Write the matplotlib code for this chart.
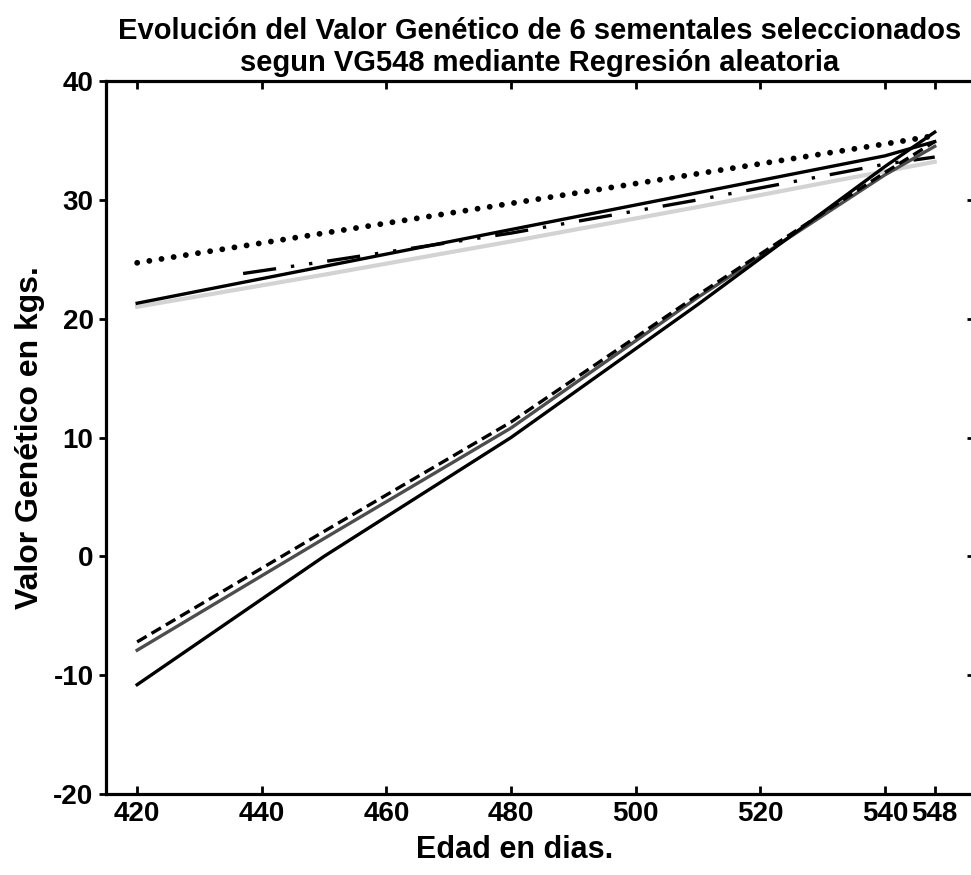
import matplotlib.pyplot as plt

plt.rcParams['font.family'] = ['Liberation Sans', 'DejaVu Sans']
plt.rcParams['font.weight'] = 'bold'
plt.rcParams['axes.unicode_minus'] = False

# Edad (dias) y valor genetico de cada semental
dias = [420, 450, 480, 510, 540, 548]
dias_sem4 = [437, 450, 480, 510, 540, 548]

sem1 = [24.7, 27.2, 29.7, 32.2, 34.7, 35.4]   # punteado
sem2 = [21.3, 24.4, 27.5, 30.6, 33.7, 34.9]   # negro continuo
sem3 = [21.0, 23.7, 26.5, 29.4, 32.4, 33.2]   # gris claro
sem4 = [23.8, 24.8, 27.2, 30.0, 33.0, 33.6]   # raya-punto-punto
sem5 = [-7.2, 2.1, 11.3, 22.0, 32.3, 34.9]    # discontinuo
sem6 = [-7.9, 1.5, 10.8, 21.8, 32.1, 34.5]    # gris oscuro
sem7 = [-10.8, 0.0, 10.0, 21.2, 32.8, 35.7]   # negro continuo

xticks = [420, 440, 460, 480, 500, 520, 540, 548]
yticks = [-20, -10, 0, 10, 20, 30, 40]

fig = plt.figure(figsize=(9.71, 8.75), dpi=100)
ax = fig.add_axes([106 / 971, 1 - 794 / 875, 868 / 971, 713 / 875])

ax.plot(dias, sem3, color='#d3d3d3', lw=3)
ax.plot(dias, sem1, color='black', lw=4.2, linestyle=(0, (0.01, 2.1)),
        dash_capstyle='round')
ax.plot(dias, sem2, color='black', lw=2.4)
l4, = ax.plot(dias_sem4, sem4, color='black', lw=2.4)
l4.set_dashes([10, 4.5, 1, 4.5, 1, 4.5])
ax.plot(dias, sem6, color='#4d4d4d', lw=2.4)
ax.plot(dias, sem5, color='black', lw=2.4, linestyle=(0, (3.3, 1.7)))
ax.plot(dias, sem7, color='black', lw=2.4)

ax.set_xlim(415, 554.3)
ax.set_ylim(-20, 40)
ax.set_xticks(xticks)
ax.set_yticks(yticks)

for s in ax.spines.values():
    s.set_linewidth(2.3)

ax.tick_params(axis='x', direction='in', top=True, length=6, width=2,
               labelsize=20, pad=5)
ax.tick_params(axis='y', direction='out', length=5, width=2,
               labelsize=20, pad=4)
ax.tick_params(axis='y', which='both', right=True)
for t in ax.yaxis.get_ticklines()[1::2]:
    t.set_marker(0)  # ticks derechos hacia dentro

ax.set_xlabel('Edad en dias.', fontsize=22, fontweight='bold')
ax.xaxis.set_label_coords(0.471, -0.079, transform=ax.transAxes)
ax.xaxis.label.set_va('center')
ax.set_ylabel('Valor Genético en kgs.', fontsize=23, fontweight='bold',
              labelpad=6)
fig.text(540 / 971, 1 - 47 / 875,
         'Evolución del Valor Genético de 6 sementales seleccionados\n'
         'segun VG548 mediante Regresión aleatoria',
         ha='center', va='center', fontsize=21, fontweight='bold',
         linespacing=1.2)

fig.savefig('out.png', dpi=100)
